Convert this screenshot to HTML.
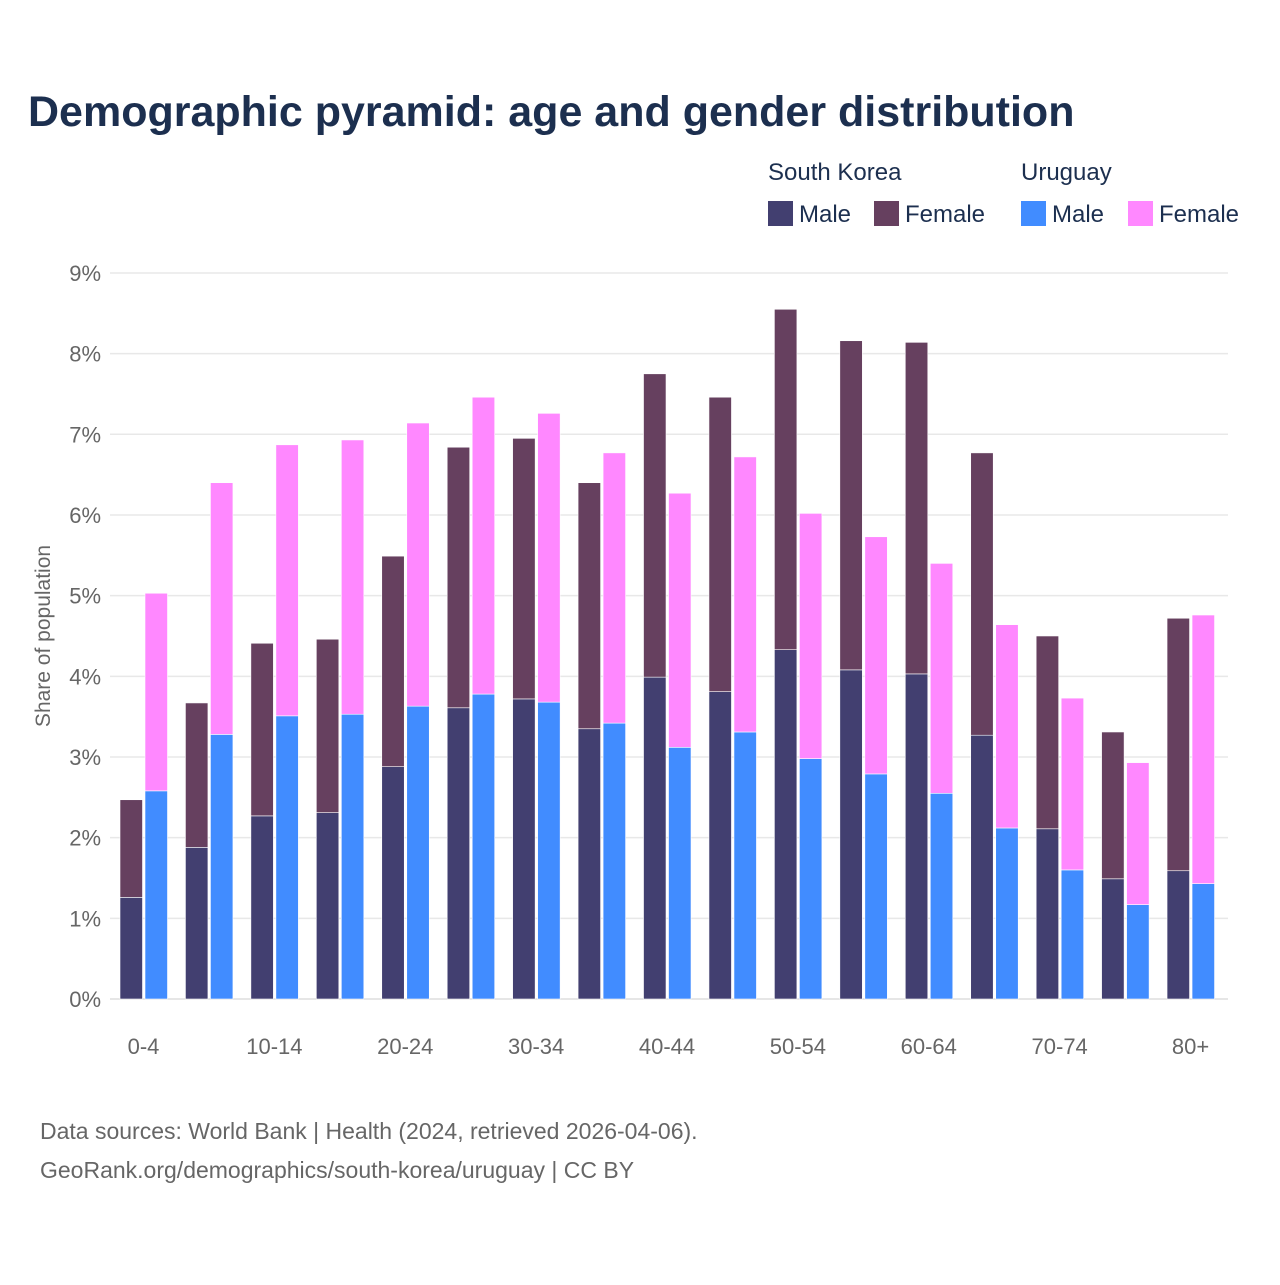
<!DOCTYPE html>
<html><head><meta charset="utf-8">
<style>
html,body{margin:0;padding:0;background:#fff;}
body{width:1280px;height:1280px;overflow:hidden;font-family:"Liberation Sans",sans-serif;}
</style></head>
<body>
<svg id="chart" width="1280" height="1280" viewBox="0 0 1280 1280" xmlns="http://www.w3.org/2000/svg">
<text x="28" y="126" font-size="43" font-weight="bold" fill="#1c2f4f">Demographic pyramid: age and gender distribution</text>
<g font-size="24" fill="#1c2f4f">
<text x="768" y="180">South Korea</text>
<text x="1021" y="180">Uruguay</text>
<rect x="768" y="201" width="25" height="25" fill="#423f70"/>
<text x="799" y="222">Male</text>
<rect x="874" y="201" width="25" height="25" fill="#66405f"/>
<text x="905" y="222">Female</text>
<rect x="1021" y="201" width="25" height="25" fill="#418cff"/>
<text x="1052" y="222">Male</text>
<rect x="1128" y="201" width="25" height="25" fill="#ff88ff"/>
<text x="1159" y="222">Female</text>
</g>
<text transform="translate(50,636) rotate(-90)" text-anchor="middle" font-size="21" fill="#666">Share of population</text>
<g id="grid"></g>
<g id="bars"></g>
<g id="xlabels"></g>
<text x="40" y="1139" font-size="23" fill="#666">Data sources: World Bank | Health (2024, retrieved 2026-04-06).</text>
<text x="40" y="1178" font-size="23" fill="#666">GeoRank.org/demographics/south-korea/uruguay | CC BY</text>
</svg>
<script>
const categories=["0-4","5-9","10-14","15-19","20-24","25-29","30-34","35-39","40-44","45-49","50-54","55-59","60-64","65-69","70-74","75-79","80+"];
const tickLabels=["0-4","","10-14","","20-24","","30-34","","40-44","","50-54","","60-64","","70-74","","80+"];
const yTicks=[0,1,2,3,4,5,6,7,8,9];
const skMale=[1.26,1.88,2.27,2.31,2.88,3.61,3.72,3.35,3.99,3.81,4.33,4.08,4.03,3.27,2.11,1.49,1.59];
const skFemale=[1.21,1.79,2.14,2.15,2.61,3.23,3.23,3.05,3.76,3.65,4.22,4.08,4.11,3.50,2.39,1.82,3.13];
const uyMale=[2.58,3.28,3.51,3.53,3.63,3.78,3.68,3.42,3.12,3.31,2.98,2.79,2.55,2.12,1.60,1.17,1.43];
const uyFemale=[2.45,3.12,3.36,3.40,3.51,3.68,3.58,3.35,3.15,3.41,3.04,2.94,2.85,2.52,2.13,1.76,3.33];
const NS="http://www.w3.org/2000/svg";
const x0=110,x1=1228,y0=999,pxPer=80.67;
const band=65.44;
const y=v=>y0-v*pxPer;
const bx=i=>x0+i*band;
const grid=document.getElementById('grid'),bars=document.getElementById('bars'),xl=document.getElementById('xlabels');
function mk(tag,attrs,parent){const e=document.createElementNS(NS,tag);for(const k in attrs)e.setAttribute(k,attrs[k]);parent.appendChild(e);return e;}
yTicks.forEach(t=>{
  const l=mk('line',{x1:x0,x2:x1,y1:y(t),y2:y(t),stroke:t===0?'#ddd':'#e8e8e8','stroke-width':1.5},grid);
  
  
  const tx=mk('text',{x:101,y:y(t)+8,'text-anchor':'end','font-size':22,fill:'#666'},grid);
  tx.textContent=t+'%';
  
  
});
function rect(x,w,base,v,fill,name){
  const r=mk('rect',{x:x,y:y(base+v),width:w,height:v*pxPer,fill:fill,stroke:'#fff','stroke-width':0.6},bars);
  
  
}
categories.forEach((c,i)=>{
  const s=bx(i)+10;
  rect(s,22.5,0,skMale[i],'#423f70','bar-sk-male-'+c);
  rect(s,22.5,skMale[i],skFemale[i],'#66405f','bar-sk-female-'+c);
  rect(s+25,22.5,0,uyMale[i],'#418cff','bar-uy-male-'+c);
  rect(s+25,22.5,uyMale[i],uyFemale[i],'#ff88ff','bar-uy-female-'+c);
  if(tickLabels[i]){
    const t=mk('text',{x:s+23.5,y:1054,'text-anchor':'middle','font-size':22,fill:'#666'},xl);
    t.textContent=tickLabels[i];
    
    
  }
});
</script>
</body></html>
